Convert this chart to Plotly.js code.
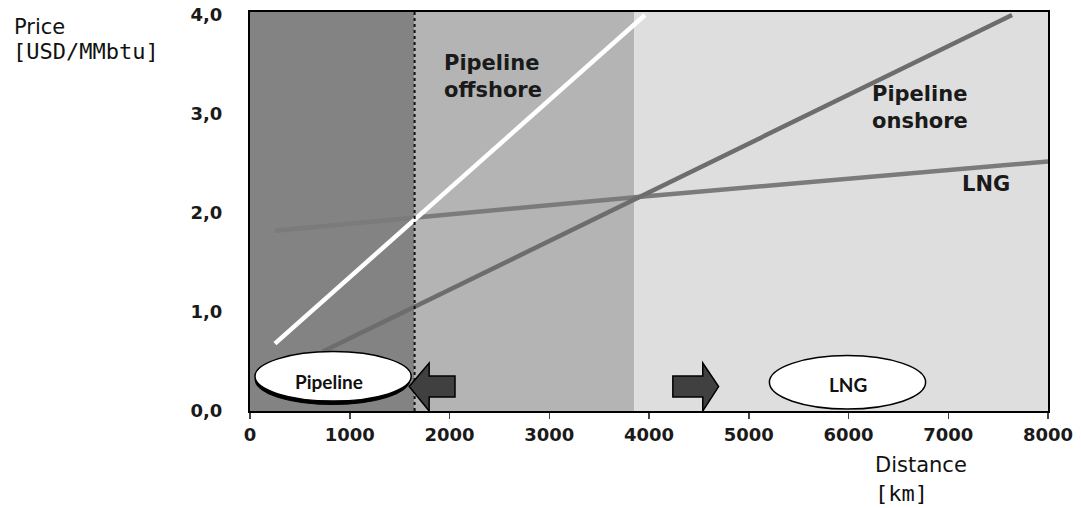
<!DOCTYPE html>
<html>
<head>
<meta charset="utf-8">
<script src="https://cdn.plot.ly/plotly-3.0.1.min.js"></script>
<style>
  html, body { margin: 0; padding: 0; background: #ffffff; }
  #chart { width: 1081px; height: 508px; }
</style>
</head>
<body>
<div id="chart"></div>
<script>
// Transport cost of natural gas versus distance (USD/MMbtu)
const offshoreDist  = [250, 3960];
const offshorePrice = [0.68, 4.0];

const onshoreDist  = [730, 7640];
const onshorePrice = [0.60, 4.0];

const lngDist  = [250, 1650, 3860, 8000];
const lngPrice = [1.82, 1.95, 2.16, 2.52];

// Break-even distances splitting the chart into regions
const regionBounds = [0, 1650, 3850, 8000];
const regionColors = ['#838383', '#b4b4b4', '#dedede'];

const yTickVals = [0, 1, 2, 3, 4];
const yTickText = ['0,0', '1,0', '2,0', '3,0', '4,0'];
const xTickVals = [0, 1000, 2000, 3000, 4000, 5000, 6000, 7000, 8000];

const labelFont = { family: 'DejaVu Sans', size: 21, color: '#1a1a1a', weight: 'bold' };
const boxFont = { family: 'Lato', size: 19, color: '#111111' };

const traces = [
  { x: lngDist, y: lngPrice, mode: 'lines', name: 'LNG',
    line: { color: '#7b7b7b', width: 4.5 }, hoverinfo: 'skip' },
  { x: onshoreDist, y: onshorePrice, mode: 'lines', name: 'Pipeline onshore',
    line: { color: '#6d6d6d', width: 4.5 }, hoverinfo: 'skip' },
  { x: offshoreDist, y: offshorePrice, mode: 'lines', name: 'Pipeline offshore',
    line: { color: '#ffffff', width: 4.5 }, hoverinfo: 'skip' }
];

const shapes = [];
for (let i = 0; i < regionColors.length; i++) {
  shapes.push({ type: 'rect', xref: 'x', yref: 'y', layer: 'below',
    x0: regionBounds[i], x1: regionBounds[i + 1], y0: 0, y1: 4.03,
    fillcolor: regionColors[i], line: { width: 0 } });
}
// dotted divider at the first break-even distance
shapes.push({ type: 'line', xref: 'x', yref: 'y', layer: 'above',
  x0: regionBounds[1], x1: regionBounds[1], y0: 0, y1: 4.03,
  line: { color: '#111111', width: 2, dash: 'dot' } });

// "Pipeline" bubble with drop shadow
shapes.push({ type: 'circle', xref: 'x', yref: 'y', layer: 'above',
  x0: 50, x1: 1605, y0: 0.065, y1: 0.565,
  fillcolor: '#000000', line: { color: '#000000', width: 1 } });
shapes.push({ type: 'circle', xref: 'x', yref: 'y', layer: 'above',
  x0: 50, x1: 1616, y0: 0.10, y1: 0.60,
  fillcolor: '#ffffff', line: { color: '#000000', width: 1.5 } });
// "LNG" bubble
shapes.push({ type: 'circle', xref: 'x', yref: 'y', layer: 'above',
  x0: 5207, x1: 6773, y0: 0.02, y1: 0.56,
  fillcolor: '#ffffff', line: { color: '#000000', width: 1.5 } });

// block arrows pointing away from the pipeline / LNG boundary
function arrowPath(tail, base, tip) {
  const yTop = 0.485, yBot = 0.0, sTop = 0.354, sBot = 0.141, yMid = 0.247;
  return `M ${tail},${sTop} L ${base},${sTop} L ${base},${yTop} L ${tip},${yMid} ` +
         `L ${base},${yBot} L ${base},${sBot} L ${tail},${sBot} Z`;
}
shapes.push({ type: 'path', xref: 'x', yref: 'y', layer: 'above',
  path: arrowPath(2055, 1796, 1596),
  fillcolor: '#404040', line: { color: '#000000', width: 1.5 } });
shapes.push({ type: 'path', xref: 'x', yref: 'y', layer: 'above',
  path: arrowPath(4239, 4539, 4698),
  fillcolor: '#404040', line: { color: '#000000', width: 1.5 } });

const annotations = [
  { xref: 'x', yref: 'y', x: 1925, y: 3.38, xanchor: 'left', yanchor: 'middle',
    align: 'left', showarrow: false, text: 'Pipeline<br>offshore', font: labelFont },
  { xref: 'x', yref: 'y', x: 6214, y: 3.07, xanchor: 'left', yanchor: 'middle',
    align: 'left', showarrow: false, text: 'Pipeline<br>onshore', font: labelFont },
  { xref: 'x', yref: 'y', x: 7122, y: 2.29, xanchor: 'left', yanchor: 'middle',
    align: 'left', showarrow: false, text: 'LNG', font: labelFont },
  { xref: 'x', yref: 'y', x: 790, y: 0.30, xanchor: 'center', yanchor: 'middle',
    showarrow: false, text: '<b>Pipeline</b>', font: boxFont },
  { xref: 'x', yref: 'y', x: 5990, y: 0.27, xanchor: 'center', yanchor: 'middle',
    showarrow: false, text: '<b>LNG</b>', font: boxFont },
  // axis titles
  { xref: 'paper', yref: 'paper', x: -0.298, y: 0.963, xanchor: 'left', yanchor: 'middle',
    showarrow: false, text: 'Price',
    font: { family: 'DejaVu Sans', size: 21, color: '#111111' } },
  { xref: 'paper', yref: 'paper', x: -0.299, y: 0.902, xanchor: 'left', yanchor: 'middle',
    showarrow: false, text: '[USD/MMbtu]',
    font: { family: 'DejaVu Sans Mono', size: 22, color: '#111111' } },
  { xref: 'paper', yref: 'paper', x: 0.781, y: -0.135, xanchor: 'left', yanchor: 'middle',
    showarrow: false, text: 'Distance',
    font: { family: 'DejaVu Sans', size: 21, color: '#111111' } },
  { xref: 'paper', yref: 'paper', x: 0.781, y: -0.208, xanchor: 'left', yanchor: 'middle',
    showarrow: false, text: '[km]',
    font: { family: 'DejaVu Sans Mono', size: 22, color: '#111111' } }
];

const layout = {
  width: 1081, height: 508,
  margin: { l: 250, r: 33, t: 12, b: 97 },
  paper_bgcolor: '#ffffff', plot_bgcolor: '#ffffff',
  showlegend: false,
  xaxis: {
    range: [0, 8000], tickvals: xTickVals, tickformat: 'd',
    showgrid: false, zeroline: false,
    showline: true, mirror: true, linecolor: '#000000', linewidth: 2,
    ticks: 'outside', ticklen: 6, tickwidth: 1.5, tickcolor: '#444444',
    tickfont: { family: 'DejaVu Sans', size: 18, color: '#1a1a1a', weight: 'bold' },
    fixedrange: true
  },
  yaxis: {
    range: [0, 4.03], tickvals: yTickVals, ticktext: yTickText,
    showgrid: false, zeroline: false,
    showline: true, mirror: true, linecolor: '#000000', linewidth: 2,
    ticks: '', ticklabelstandoff: 22,
    tickfont: { family: 'DejaVu Sans', size: 18, color: '#1a1a1a', weight: 'bold' },
    fixedrange: true
  },
  shapes: shapes,
  annotations: annotations
};

Plotly.newPlot('chart', traces, layout, { displayModeBar: false, staticPlot: true });
</script>
</body>
</html>
